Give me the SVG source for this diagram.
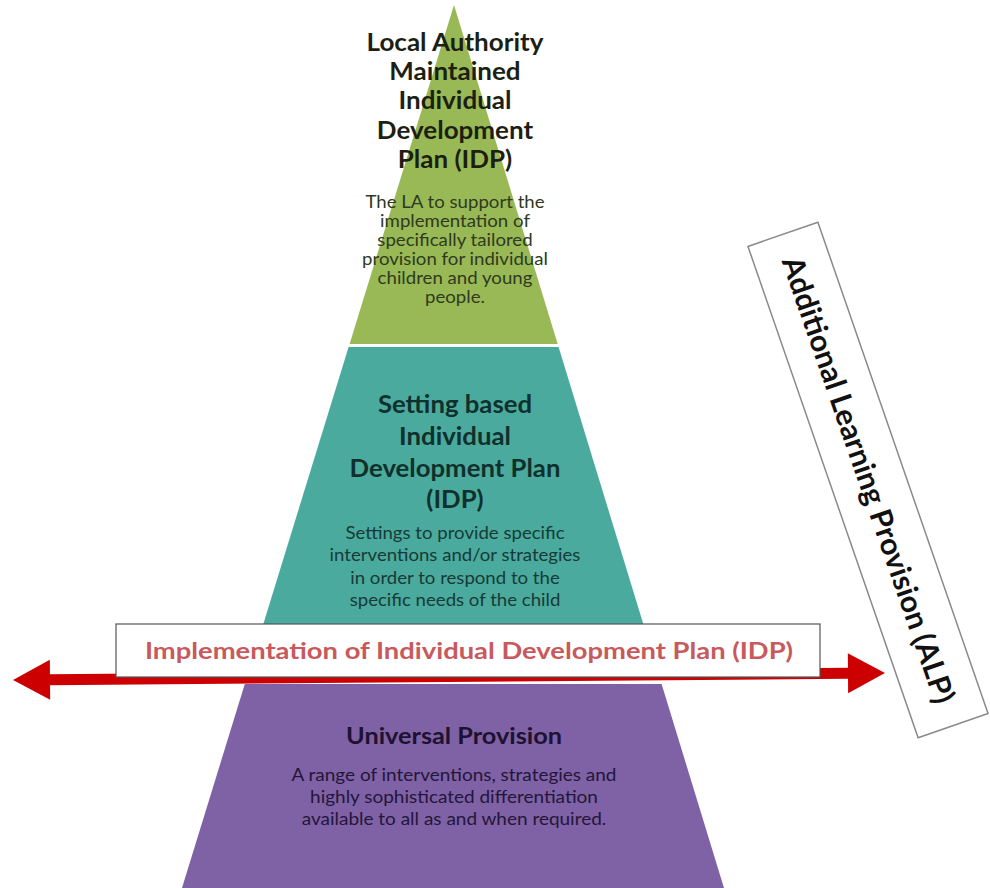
<svg xmlns="http://www.w3.org/2000/svg" width="990" height="888" viewBox="0 0 990 888">
  <style>
    .title { font-family: Lato, "Open Sans", "Liberation Sans", sans-serif; font-weight: 700; text-anchor: middle; }
    .desc { font-family: Lato, "Open Sans", "Liberation Sans", sans-serif; font-weight: 400; text-anchor: middle; }
    .g-title { fill: #1c1f12; font-size: 25px; }
    .g-desc { fill: #2f3a1e; font-size: 16.5px; }
    .t-title { fill: #10302c; font-size: 25px; }
    .t-desc { fill: #173a36; font-size: 17px; }
    .p-title { fill: #1d1232; font-size: 23px; }
    .p-desc { fill: #23163a; font-size: 16.5px; }
  </style>

  <rect width="990" height="888" fill="#ffffff"/>

  <!-- top tier: LA maintained IDP -->
  <g id="tier-la-idp">
    <polygon points="454,5 557.7,344 349.6,344" fill="#98b955"/>
    <g transform="translate(455,0) scale(1.04,1) translate(-455,0)">
      <text class="title g-title" x="455" y="51">Local Authority</text>
      <text class="title g-title" x="455" y="80">Maintained</text>
      <text class="title g-title" x="455" y="109">Individual</text>
      <text class="title g-title" x="455" y="139">Development</text>
      <text class="title g-title" x="455" y="168">Plan (IDP)</text>
    </g>
    <g transform="translate(455,0) scale(1.13,1) translate(-455,0)">
      <text class="desc g-desc" x="455" y="208">The LA to support the</text>
      <text class="desc g-desc" x="455" y="227">implementation of</text>
      <text class="desc g-desc" x="455" y="246">specifically tailored</text>
      <text class="desc g-desc" x="455" y="265">provision for individual</text>
      <text class="desc g-desc" x="455" y="284">children and young</text>
      <text class="desc g-desc" x="455" y="303">people.</text>
    </g>
  </g>

  <!-- middle tier: setting based IDP -->
  <g id="tier-setting-idp">
    <polygon points="348.6,347 558.6,347 659.2,676 247.3,676" fill="#4aaa9e"/>
    <g transform="translate(455,0) scale(1.03,1) translate(-455,0)">
      <text class="title t-title" x="455" y="413">Setting based</text>
      <text class="title t-title" x="455" y="445">Individual</text>
      <text class="title t-title" x="455" y="477">Development Plan</text>
      <text class="title t-title" x="455" y="508">(IDP)</text>
    </g>
    <g transform="translate(455,0) scale(1.095,1) translate(-455,0)">
      <text class="desc t-desc" x="455" y="539">Settings to provide specific</text>
      <text class="desc t-desc" x="455" y="561">interventions and/or strategies</text>
      <text class="desc t-desc" x="455" y="584">in order to respond to the</text>
      <text class="desc t-desc" x="455" y="606">specific needs of the child</text>
    </g>
  </g>

  <!-- bottom tier: universal provision -->
  <g id="tier-universal">
    <polygon points="244.8,684 661.6,684 724,888 182,888" fill="#7f61a5"/>
    <g transform="translate(454,0) scale(1.1,1) translate(-454,0)">
      <text class="title p-title" x="454" y="744">Universal Provision</text>
    </g>
    <g transform="translate(454,0) scale(1.15,1) translate(-454,0)">
      <text class="desc p-desc" x="454" y="781">A range of interventions, strategies and</text>
      <text class="desc p-desc" x="454" y="803">highly sophisticated differentiation</text>
      <text class="desc p-desc" x="454" y="825">available to all as and when required.</text>
    </g>
  </g>

  <!-- double-headed implementation arrow -->
  <g id="connectors">
    <polygon transform="translate(13,680) rotate(-0.46)"
             points="0,0 37,-20 37,-5.5 835,-5.5 835,-20 872,0 835,20 835,5.5 37,5.5 37,20"
             fill="#cc0000"/>
  </g>

  <!-- implementation label -->
  <g id="label-implementation">
    <rect x="116" y="624" width="704" height="53" fill="#ffffff" stroke="#555555" stroke-width="1.2"/>
    <g transform="translate(469,0) scale(1.19,1) translate(-469,0)">
      <text class="title" x="469" y="659" font-size="23" fill="#c8595c">Implementation of Individual Development Plan (IDP)</text>
    </g>
  </g>

  <!-- rotated ALP banner -->
  <g id="label-alp" transform="translate(868,480) rotate(70.9)">
    <rect x="-260" y="-37" width="520" height="74" fill="#ffffff" stroke="#8a8a8a" stroke-width="1.5"/>
    <text class="title" x="0" y="10" font-size="30" fill="#111111">Additional Learning Provision (ALP)</text>
  </g>
</svg>
